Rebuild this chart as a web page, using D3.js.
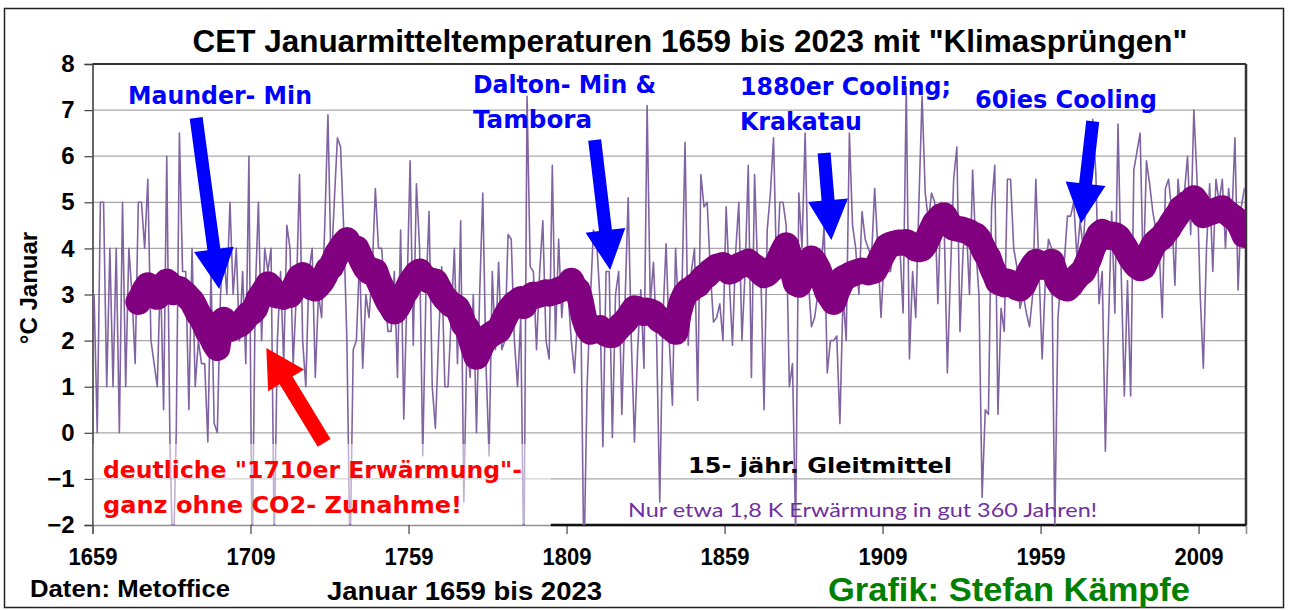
<!DOCTYPE html>
<html>
<head>
<meta charset="utf-8">
<script src="https://cdn.jsdelivr.net/npm/d3@7"></script>
<style>
  body { margin: 0; background: #fff; }
</style>
</head>
<body>
<div id="chart"></div>
<script>
// CET Januar-Mitteltemperaturen, 1659..2023
const startYear = 1659;
const janTemp = [
  3.0, 0.0, 5.0, 5.0, 1.0, 4.0, 1.0, 4.0, 0.0, 5.0,   // 1659
  1.0, 4.0, 3.0, 1.5, 5.0, 5.0, 4.0, 5.5, 2.0, 1.5,   // 1669
  1.0, 3.5, 0.5, 6.0, -0.2, -3.0, 0.0, 6.5, 3.5, 3.5, // 1679
  0.5, 4.0, 1.0, 2.0, 1.5, 1.5, -0.2, 3.5, 0.2, 0.0,  // 1689
  3.0, 4.0, 3.0, 5.0, 3.0, 4.0, 2.0, 3.5, 1.5, 6.0,   // 1699
  -3.0, 3.0, 5.0, 2.0, 4.0, 3.5, 4.0, -2.5, 2.0, 3.5, // 1709
  1.5, 4.5, 4.0, 1.5, 3.0, 5.6, 2.0, 1.0, 3.5, 4.0,   // 1719
  1.2, 3.0, 2.5, 4.5, 6.9, 3.5, 5.0, 6.4, 6.2, 4.4,   // 1729
  2.0, -2.8, 1.8, 2.0, 3.8, 1.4, 3.0, 2.5, 3.5, 5.3,  // 1739
  4.0, 4.0, 3.0, 2.2, 2.2, 3.5, 1.2, 4.4, 0.3, 3.0,   // 1749
  5.9, 1.9, 5.4, 4.0, -0.5, 3.0, 4.8, 1.0, 0.1, 2.0,  // 1759
  3.6, 1.0, 1.0, 2.5, 4.0, 1.5, 4.6, -1.5, 2.0, 1.2,  // 1769
  3.0, 0.0, 3.0, 5.2, 1.5, -0.5, 3.5, 1.8, 3.7, 1.8,  // 1779
  2.0, 4.3, 4.2, 2.0, 1.0, 2.5, -3.1, 7.3, 3.6, 3.5,  // 1789
  1.8, 3.5, 4.6, 2.0, 1.6, 5.8, 2.0, 4.2, 2.5, 3.5,   // 1799
  3.0, 2.0, 1.3, 2.5, 2.8, -2.9, 1.0, 2.8, 4.4, 4.2,  // 1809
  3.0, -0.3, 3.5, 3.5, -0.1, 3.0, 3.5, 0.4, 2.8, 5.1, // 1819
  2.0, -0.2, 1.8, 3.1, 1.4, 7.1, 2.8, 3.7, 2.0, -1.5, // 1829
  2.5, 4.1, 2.0, 0.6, 4.0, 2.5, 3.0, 6.3, 1.9, 3.5,   // 1839
  4.0, 0.7, 5.6, 4.9, 5.0, 3.5, 2.4, 2.5, 2.8, 2.0,   // 1849
  4.9, 3.3, 1.9, 3.9, 5.0, 2.0, 3.5, 5.8, 1.2, 5.6,   // 1859
  3.5, 3.4, 0.5, 4.4, 5.2, 6.4, 3.4, 5.0, 5.0, 4.5,   // 1869
  1.0, 1.5, -2.2, 5.2, 4.0, 6.5, 3.3, 2.3, 2.5, 3.0,  // 1879
  3.5, 4.5, 1.3, 2.0, 2.0, 2.1, 0.2, 3.0, 2.0, 6.5,   // 1889
  4.5, 4.0, 3.0, 4.8, 4.2, 4.0, 3.8, 5.3, 4.0, 2.5,   // 1899
  3.8, 3.5, 3.5, 4.0, 4.3, 4.0, 2.6, 7.5, 1.6, 3.5,   // 1909
  2.5, 5.0, 7.3, 5.2, 4.6, 5.2, 5.0, 2.8, 5.0, 4.5,   // 1919
  1.3, 3.5, 5.5, 6.2, 2.2, 4.0, 4.5, 3.0, 5.7, 4.0,   // 1929
  3.0, -1.4, 0.5, 0.4, 4.9, 5.8, 0.4, 2.7, 2.2, 5.5,  // 1939
  5.5, 4.0, 3.6, 2.7, 3.0, 2.6, 2.3, 3.0, 5.5, 3.5,   // 1949
  1.6, 3.3, 4.2, 4.0, -2.1, 2.5, 3.4, 3.7, 4.7, 4.7,  // 1959
  5.0, 3.8, 4.6, 4.0, 5.3, 5.0, 6.8, 5.6, 2.8, 3.5,   // 1969
  -0.4, 2.4, 4.8, 2.6, 6.7, 3.5, 0.8, 3.3, 0.8, 5.7,  // 1979
  6.1, 6.5, 3.4, 5.9, 5.4, 4.8, 4.4, 4.0, 2.5, 5.3,   // 1989
  5.5, 4.8, 3.2, 5.5, 4.7, 5.2, 6.0, 4.3, 7.0, 5.5,   // 1999
  3.0, 1.4, 4.0, 5.4, 3.5, 5.5, 5.0, 5.5, 4.0, 5.3,   // 2009
  4.6, 6.4, 3.1, 4.9, 5.3                             // 2019
];

// 15-jähriges Gleitmittel (dicke Kurve), 1673..2023
const maStart = 1673;
const gleitmittel15 = [
  2.84, 2.95, 3.10, 3.20, 3.15, 3.02, 2.95, 3.05, 3.20, 3.28, // 1673
  3.22, 3.05, 3.08, 3.12, 3.06, 3.00, 2.92, 2.85, 2.72, 2.58, // 1683
  2.49, 2.35, 2.19, 2.10, 1.95, 1.84, 2.30, 2.45, 2.35, 2.25, // 1693
  2.28, 2.32, 2.35, 2.41, 2.50, 2.58, 2.62, 2.70, 2.90, 3.00, // 1703
  3.10, 3.22, 3.15, 3.00, 2.98, 2.99, 2.95, 3.00, 2.99, 3.10, // 1713
  3.25, 3.38, 3.42, 3.30, 3.22, 3.15, 3.13, 3.20, 3.28, 3.40, // 1723
  3.55, 3.60, 3.75, 3.90, 4.00, 4.10, 4.18, 4.05, 4.02, 4.00, // 1733
  3.85, 3.70, 3.57, 3.50, 3.52, 3.50, 3.30, 3.15, 3.00, 2.85, // 1743
  2.75, 2.63, 2.72, 2.85, 3.00, 3.10, 3.25, 3.35, 3.45, 3.50, // 1753
  3.40, 3.35, 3.30, 3.30, 3.28, 3.15, 3.02, 2.92, 2.85, 2.78, // 1763
  2.75, 2.70, 2.55, 2.35, 2.27, 2.10, 1.85, 1.65, 1.80, 1.95, // 1773
  2.05, 2.10, 2.15, 2.19, 2.22, 2.35, 2.50, 2.63, 2.72, 2.80, // 1783
  2.85, 2.90, 2.75, 2.90, 2.95, 3.00, 2.98, 3.00, 3.02, 3.05, // 1793
  3.02, 3.05, 3.06, 3.10, 3.12, 3.15, 3.20, 3.30, 3.15, 3.10, // 1803
  2.85, 2.50, 2.30, 2.19, 2.22, 2.25, 2.27, 2.20, 2.15, 2.12, // 1813
  2.12, 2.20, 2.28, 2.35, 2.41, 2.50, 2.60, 2.70, 2.68, 2.62, // 1823
  2.60, 2.65, 2.63, 2.60, 2.52, 2.45, 2.41, 2.38, 2.30, 2.25, // 1833
  2.19, 2.60, 2.85, 3.00, 3.08, 3.12, 3.18, 3.21, 3.30, 3.38, // 1843
  3.42, 3.50, 3.55, 3.60, 3.62, 3.64, 3.58, 3.50, 3.52, 3.58, // 1853
  3.62, 3.65, 3.68, 3.71, 3.65, 3.60, 3.55, 3.48, 3.42, 3.45, // 1863
  3.52, 3.58, 3.64, 3.80, 3.95, 4.07, 3.85, 3.55, 3.25, 3.21, // 1873
  3.35, 3.55, 3.70, 3.78, 3.70, 3.57, 3.40, 3.25, 3.05, 2.95, // 1883
  2.84, 3.05, 3.20, 3.35, 3.38, 3.42, 3.45, 3.48, 3.50, 3.52, // 1893
  3.50, 3.48, 3.50, 3.52, 3.65, 3.80, 3.92, 4.05, 4.08, 4.10, // 1903
  4.12, 4.13, 4.12, 4.14, 4.10, 4.05, 4.00, 3.98, 4.00, 4.10, // 1913
  4.25, 4.40, 4.55, 4.62, 4.70, 4.72, 4.60, 4.50, 4.45, 4.43, // 1923
  4.42, 4.40, 4.38, 4.35, 4.30, 4.28, 4.20, 4.05, 3.90, 3.80, // 1933
  3.60, 3.45, 3.28, 3.25, 3.22, 3.28, 3.25, 3.20, 3.15, 3.13, // 1943
  3.20, 3.35, 3.50, 3.62, 3.71, 3.68, 3.60, 3.62, 3.68, 3.71, // 1953
  3.50, 3.30, 3.20, 3.15, 3.13, 3.20, 3.30, 3.38, 3.45, 3.50, // 1963
  3.65, 3.80, 4.00, 4.15, 4.30, 4.36, 4.32, 4.25, 4.30, 4.29, // 1973
  4.25, 4.15, 4.05, 3.93, 3.80, 3.70, 3.62, 3.57, 3.60, 3.75, // 1983
  3.90, 4.05, 4.14, 4.20, 4.25, 4.35, 4.43, 4.55, 4.65, 4.75, // 1993
  4.87, 4.92, 4.98, 5.02, 5.09, 5.00, 4.85, 4.72, 4.75, 4.78, // 2003
  4.80, 4.82, 4.85, 4.87, 4.80, 4.75, 4.70, 4.65, 4.58, 4.45, // 2013
  4.29                                                        // 2023
];

const xTickYears = [1659, 1709, 1759, 1809, 1859, 1909, 1959, 2009];
const yTicks = [-2, -1, 0, 1, 2, 3, 4, 5, 6, 7, 8];

// Pfeile: [Jahr, °C] Ende -> Spitze
const blueArrows = [
  { from: [1691.8, 6.83], to: [1699.1, 3.12] },
  { from: [1817.9, 6.35], to: [1822.8, 3.53] },
  { from: [1890.5, 6.07], to: [1892.8, 4.18] },
  { from: [1975.5, 6.76], to: [1971.8, 4.54] }
];
const redArrow = { from: [1732.3, -0.22], to: [1714.0, 1.84] };

const width = 1290, height = 610;
const plot = { left: 92.5, right: 1246, top: 64, bottom: 525 };

const svg = d3.select("#chart").append("svg")
    .attr("width", width)
    .attr("height", height)
    .style("font-family", "'Liberation Sans', Arial, sans-serif");

svg.append("rect").attr("width", width).attr("height", height).attr("fill", "#fff");
svg.append("rect")
    .attr("x", 4.5).attr("y", 8.5).attr("width", 1279).attr("height", 599)
    .attr("fill", "none").attr("stroke", "#222").attr("stroke-width", 1.5);

const x = d3.scaleLinear().domain([startYear, 2024]).range([plot.left, plot.right]);
const y = d3.scaleLinear().domain([-2, 8]).range([plot.bottom, plot.top]);

// gridlines
svg.append("g")
    .selectAll("line")
    .data(yTicks.filter(d => d > -2 && d < 8))
    .enter().append("line")
    .attr("x1", plot.left).attr("x2", plot.right)
    .attr("y1", d => y(d)).attr("y2", d => y(d))
    .attr("stroke", "#a8a8a8").attr("stroke-width", 1.2);

// y axis
const yAxis = svg.append("g")
    .attr("transform", `translate(${plot.left},0)`)
    .call(d3.axisLeft(y).tickValues(yTicks).tickSize(8).tickPadding(10).tickFormat(d3.format("d")));
yAxis.select(".domain").attr("stroke", "#404040").attr("stroke-width", 1.6);
yAxis.selectAll(".tick line").attr("stroke", "#404040").attr("stroke-width", 1.2);
yAxis.selectAll("text")
    .attr("font-family", "'Liberation Sans', Arial, sans-serif")
    .attr("font-size", 24).attr("font-weight", "bold").attr("fill", "#000");

// x axis
const xAxis = svg.append("g")
    .attr("transform", `translate(0,${plot.bottom})`)
    .call(d3.axisBottom(x).tickValues(xTickYears).tickSize(9).tickPadding(14).tickFormat(d3.format("d")));
xAxis.select(".domain").attr("stroke", "#909090").attr("stroke-width", 1.6);
xAxis.selectAll(".tick line").attr("stroke", "#404040").attr("stroke-width", 1.2);
xAxis.selectAll("text")
    .attr("font-family", "'Liberation Sans', Arial, sans-serif")
    .attr("font-size", 24).attr("font-weight", "bold").attr("fill", "#000")
    .attr("textLength", 49).attr("lengthAdjust", "spacingAndGlyphs");

// top / right frame of the plot area
svg.append("line").attr("x1", plot.left).attr("x2", plot.right)
    .attr("y1", plot.top).attr("y2", plot.top)
    .attr("stroke", "#333").attr("stroke-width", 2);
svg.append("line").attr("x1", plot.right).attr("x2", plot.right)
    .attr("y1", plot.top).attr("y2", plot.bottom)
    .attr("stroke", "#333").attr("stroke-width", 2.5);
svg.append("line").attr("x1", x(1804)).attr("x2", plot.right)
    .attr("y1", plot.bottom).attr("y2", plot.bottom)
    .attr("stroke", "#111").attr("stroke-width", 2.5);

svg.append("clipPath").attr("id", "plot-clip")
    .append("rect")
    .attr("x", plot.left).attr("y", plot.top)
    .attr("width", plot.right - plot.left).attr("height", plot.bottom - plot.top);

const yearly = janTemp.map((v, i) => ({ year: startYear + i, value: v }));
const smooth = gleitmittel15.map((v, i) => ({ year: maStart + i, value: v }));

const line = d3.line()
    .x(d => x(d.year + 0.5))
    .y(d => y(d.value));

svg.append("path")
    .datum(yearly)
    .attr("clip-path", "url(#plot-clip)")
    .attr("fill", "none")
    .attr("stroke", "#8064a2")
    .attr("stroke-width", 1.6)
    .attr("stroke-linejoin", "round")
    .attr("d", line);

// half transparent text box behind the red note
svg.append("rect")
    .attr("x", plot.left + 1).attr("y", 444)
    .attr("width", x(1804) - plot.left - 1).attr("height", plot.bottom - 445)
    .attr("fill", "#fff").attr("opacity", 0.5);

svg.append("path")
    .datum(smooth)
    .attr("clip-path", "url(#plot-clip)")
    .attr("fill", "none")
    .attr("stroke", "#800080")
    .attr("stroke-width", 26)
    .attr("stroke-linejoin", "round")
    .attr("stroke-linecap", "round")
    .attr("d", line);

function arrowPath(a, shaft, headW, headL) {
    const x1 = x(a.from[0]), y1 = y(a.from[1]);
    const x2 = x(a.to[0]), y2 = y(a.to[1]);
    const len = Math.hypot(x2 - x1, y2 - y1);
    const ux = (x2 - x1) / len, uy = (y2 - y1) / len;
    const nx = -uy, ny = ux;
    const bx = x2 - ux * headL, by = y2 - uy * headL;
    const pts = [
        [x1 + nx * shaft / 2, y1 + ny * shaft / 2],
        [bx + nx * shaft / 2, by + ny * shaft / 2],
        [bx + nx * headW / 2, by + ny * headW / 2],
        [x2, y2],
        [bx - nx * headW / 2, by - ny * headW / 2],
        [bx - nx * shaft / 2, by - ny * shaft / 2],
        [x1 - nx * shaft / 2, y1 - ny * shaft / 2]
    ];
    return "M" + pts.map(p => p.join(",")).join("L") + "Z";
}

svg.selectAll(".blue-arrow")
    .data(blueArrows)
    .enter().append("path")
    .attr("class", "blue-arrow")
    .attr("d", d => arrowPath(d, 13, 40, 40))
    .attr("fill", "#0000ff");

svg.append("path")
    .attr("d", arrowPath(redArrow, 15, 42, 38))
    .attr("fill", "#ff0000");

// texts
function label(txt, px, py, opts) {
    const t = svg.append("text")
        .attr("x", px).attr("y", py)
        .attr("font-family", opts.font || "'Liberation Sans', Arial, sans-serif")
        .attr("font-size", opts.size)
        .attr("font-weight", opts.weight || "bold")
        .attr("fill", opts.color || "#000")
        .attr("text-anchor", opts.anchor || "start")
        .text(txt);
    if (opts.len) t.attr("textLength", opts.len).attr("lengthAdjust", "spacingAndGlyphs");
    return t;
}

const verdana = "'DejaVu Sans', Verdana, sans-serif";

label('CET Januarmitteltemperaturen 1659 bis 2023 mit "Klimasprüngen"', 690, 52,
    { size: 31, anchor: "middle", len: 995 });

svg.append("text")
    .attr("transform", "translate(37,288) rotate(-90)")
    .attr("text-anchor", "middle")
    .attr("font-size", 24).attr("font-weight", "bold")
    .text("°C Januar");

label("Maunder- Min", 128, 104, { font: verdana, size: 24, color: "#0000ff", len: 184 });
label("Dalton- Min &", 473, 93, { font: verdana, size: 24, color: "#0000ff", len: 183 });
label("Tambora", 473, 128, { font: verdana, size: 24, color: "#0000ff", len: 119 });
label("1880er Cooling;", 740, 95, { font: verdana, size: 24, color: "#0000ff", len: 211 });
label("Krakatau", 740, 130, { font: verdana, size: 24, color: "#0000ff", len: 122 });
label("60ies Cooling", 975, 108, { font: verdana, size: 24, color: "#0000ff", len: 182 });

label('deutliche "1710er Erwärmung"-', 103, 478, { font: verdana, size: 23.5, color: "#ff0000", len: 419 });
label("ganz ohne CO2- Zunahme!", 103, 513, { font: verdana, size: 23.5, color: "#ff0000", len: 359 });

label("15- jähr. Gleitmittel", 688, 473, { font: verdana, size: 22, color: "#000", len: 264 });
label("Nur etwa 1,8 K Erwärmung in gut 360 Jahren!", 628, 517,
    { font: "Lato, 'Open Sans', sans-serif", size: 20, weight: "normal", color: "#7030a0", len: 469 });

label("Daten: Metoffice", 30, 597, { size: 23, len: 200 });
label("Januar 1659 bis 2023", 327, 600, { size: 26, len: 275 });
label("Grafik: Stefan Kämpfe", 828, 601, { size: 33, color: "#008000", len: 362 });
</script>
</body>
</html>
